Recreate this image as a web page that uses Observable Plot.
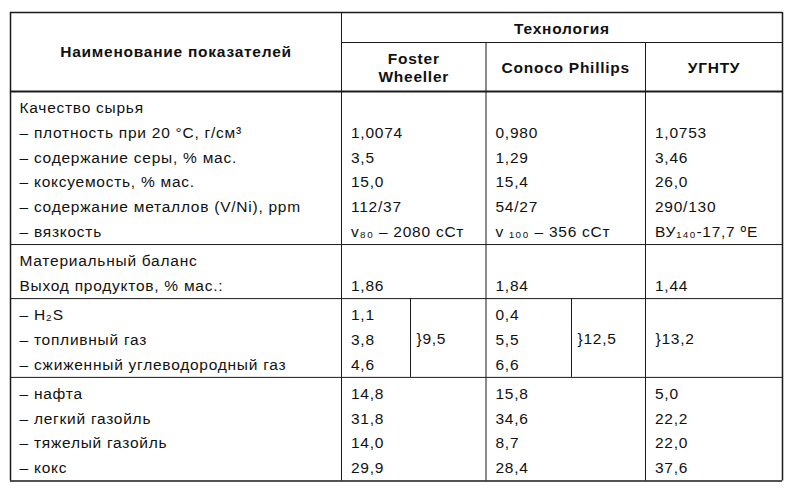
<!DOCTYPE html>
<html>
<head>
<meta charset="utf-8">
<script src="https://cdn.jsdelivr.net/npm/d3@7"></script>
<script src="https://cdn.jsdelivr.net/npm/@observablehq/plot@0.6"></script>
<style>
  html, body { margin: 0; padding: 0; background: #fff; }
  #chart svg { display: block; }
  #chart svg text { letter-spacing: 0.75px; }
</style>
</head>
<body>
<div id="chart"></div>
<script>
// ---- table content ----
const nameHeader = "Наименование показателей";
const groupHeader = "Технология";
const technologies = ["Foster\nWheeller", "Conoco Phillips", "УГНТУ"];

const qualityLabels = ["Качество сырья", "– плотность при 20 °С, г/см³", "– содержание серы, % мас.", "– коксуемость, % мас.", "– содержание металлов (V/Ni), ppm", "– вязкость"];
const fosterQuality = ["", "1,0074", "3,5", "15,0", "112/37", "v₈₀ – 2080 сСт"];
const conocoQuality = ["", "0,980", "1,29", "15,4", "54/27", "v ₁₀₀ – 356 сСт"];
const ugntuQuality  = ["", "1,0753", "3,46", "26,0", "290/130", "ВУ₁₄₀-17,7 ºЕ"];

const balanceLabels = ["Материальный баланс", "Выход продуктов, % мас.:"];
const fosterBalance = ["", "1,86"];
const conocoBalance = ["", "1,84"];
const ugntuBalance  = ["", "1,44"];

const gasLabels = ["– H₂S", "– топливный газ", "– сжиженный углеводородный газ"];
const fosterGas = ["1,1", "3,8", "4,6"];
const conocoGas = ["0,4", "5,5", "6,6"];
const ugntuGas  = ["", "", ""];
const gasTotals = ["}9,5", "}12,5", "}13,2"];

const productLabels = ["– нафта", "– легкий газойль", "– тяжелый газойль", "– кокс"];
const fosterProducts = ["14,8", "31,8", "14,0", "29,9"];
const conocoProducts = ["15,8", "34,6", "8,7", "28,4"];
const ugntuProducts  = ["5,0", "22,2", "22,0", "37,6"];

// ---- layout (grid geometry) ----
const W = 800, H = 489;
const colEdges = [10, 341, 485.5, 645, 782];
const subEdges = [410, 571];
const headTop = 12, headMid = 42, headBottom = 91;
const rowH = 24.75, firstOff = 21.5, bottomPad = 7.8, padL = 9.5, fs = 15.5;

const sections = [
  {labels: qualityLabels, cols: [fosterQuality, conocoQuality, ugntuQuality]},
  {labels: balanceLabels, cols: [fosterBalance, conocoBalance, ugntuBalance]},
  {labels: gasLabels, cols: [fosterGas, conocoGas, ugntuGas], totals: gasTotals},
  {labels: productLabels, cols: [fosterProducts, conocoProducts, ugntuProducts]}
];

const cells = [];   // {x, y, text, anchor, bold}
const hLines = [];  // {x1, x2, y, w}
const vLines = [];  // {x, y1, y2, w}

// header texts
cells.push({x: (colEdges[0] + colEdges[1]) / 2, y: 56, text: nameHeader, anchor: "middle", bold: true});
cells.push({x: (colEdges[1] + colEdges[4]) / 2, y: 33.3, text: groupHeader, anchor: "middle", bold: true});
technologies.forEach((t, j) => {
  cells.push({x: (colEdges[j + 1] + colEdges[j + 2]) / 2, y: t.includes("\n") ? 81.7 : 72.7, text: t, anchor: "middle", bold: true});
});

let yCursor = headBottom;
const sectionTops = [];
sections.forEach((s) => {
  sectionTops.push(yCursor);
  const n = s.labels.length;
  s.labels.forEach((lab, i) => {
    const b = yCursor + firstOff + i * rowH;
    cells.push({x: colEdges[0] + padL - 0.5, y: b, text: lab, anchor: "start"});
    s.cols.forEach((col, j) => {
      if (col[i]) cells.push({x: colEdges[j + 1] + padL, y: b, text: col[i], anchor: "start"});
    });
  });
  const bottom = yCursor + firstOff + (n - 1) * rowH + bottomPad;
  if (s.totals) {
    const mid = yCursor + firstOff + ((n - 1) / 2) * rowH;
    const starts = [subEdges[0] + 6, subEdges[1] + 6, colEdges[3] + padL + 0.5];
    s.totals.forEach((t, j) => cells.push({x: starts[j], y: mid - 0.5, text: t, anchor: "start"}));
    vLines.push({x: subEdges[0], y1: yCursor, y2: bottom, w: 1});
    vLines.push({x: subEdges[1], y1: yCursor, y2: bottom, w: 1});
  }
  yCursor = bottom;
});
const tableBottom = yCursor;

// horizontal rules
hLines.push({x1: colEdges[0], x2: colEdges[4], y: headTop, w: 1.5});
hLines.push({x1: colEdges[1], x2: colEdges[4], y: headMid, w: 1});
hLines.push({x1: colEdges[0], x2: colEdges[4], y: headBottom, w: 2});
sectionTops.slice(1).forEach(t => hLines.push({x1: colEdges[0], x2: colEdges[4], y: t, w: 1}));
hLines.push({x1: colEdges[0], x2: colEdges[4], y: tableBottom, w: 1.5});
// vertical rules
vLines.push({x: colEdges[0], y1: headTop, y2: tableBottom, w: 1.5});
vLines.push({x: colEdges[4], y1: headTop, y2: tableBottom, w: 1.5});
vLines.push({x: colEdges[1], y1: headTop, y2: tableBottom, w: 1});
vLines.push({x: colEdges[2], y1: headMid, y2: tableBottom, w: 1});
vLines.push({x: colEdges[3], y1: headMid, y2: tableBottom, w: 1});

const font = "'Liberation Sans', Arial, Helvetica, sans-serif";

const plot = Plot.plot({
  width: W,
  height: H,
  margin: 0,
  x: {domain: [0, W], range: [0, W], axis: null},
  y: {domain: [0, H], range: [0, H], axis: null},
  style: {fontFamily: font, background: "#fff"},
  marks: [
    Plot.ruleY(hLines, {y: "y", x1: "x1", x2: "x2", stroke: "#1a1a1a", strokeWidth: d => d.w}),
    Plot.ruleX(vLines, {x: "x", y1: "y1", y2: "y2", stroke: "#1a1a1a", strokeWidth: d => d.w}),
    Plot.text(cells.filter(d => !d.bold), {
      x: "x", y: "y", text: "text", textAnchor: "start", lineAnchor: "bottom",
      fontSize: fs, fill: "#111", fontFamily: font
    }),
    Plot.text(cells.filter(d => d.bold), {
      x: "x", y: "y", text: "text", textAnchor: "middle", lineAnchor: "bottom", lineHeight: 1.2,
      fontSize: fs, fontWeight: "bold", fill: "#111", fontFamily: font
    })
  ]
});
document.getElementById("chart").appendChild(plot);
</script>
</body>
</html>
